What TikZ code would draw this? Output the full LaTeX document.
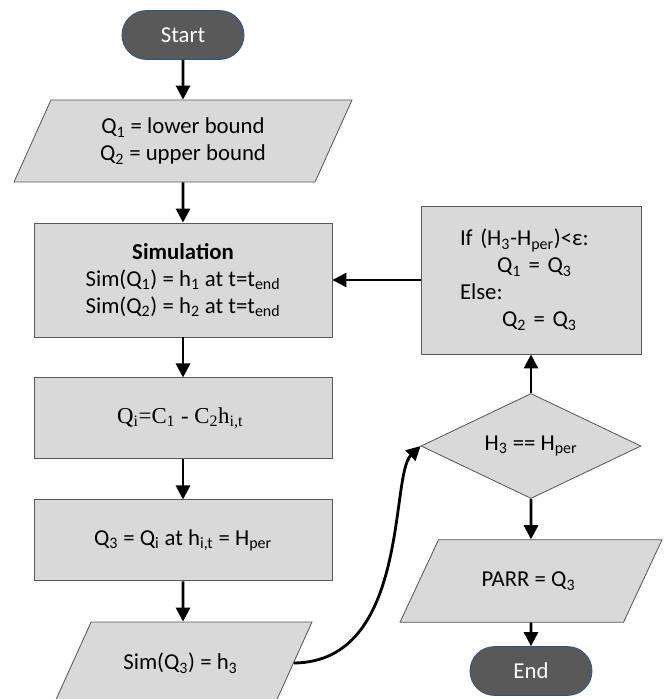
\documentclass[tikz,border=0pt]{standalone}
\usepackage{fontspec}
\setmainfont{Carlito}
\newfontfamily\timesfont{Liberation Serif}
\usepackage{xcolor}
\definecolor{chartFill}{HTML}{D9D9D9}
\definecolor{chartEdge}{HTML}{595959}
\definecolor{chartDark}{HTML}{595959}
\definecolor{chartBlue}{HTML}{2F528F}
\usetikzlibrary{shapes.geometric, shapes.misc, arrows.meta}
\newcommand{\Hper}{H\textsubscript{per}}
\newcommand{\tend}{t\textsubscript{end}}

\begin{document}
\begin{tikzpicture}[
    base/.style={
        font=\fontsize{16.2}{19.2}\selectfont,
        align=center, inner sep=0pt, line width=0.6pt
    },
    term/.style={base, rounded rectangle, fill=chartDark, draw=chartBlue,
        text=white, minimum width=3.05cm, minimum height=1.22cm},
    % slant comes from the natural height, so inner ysep fills it up
    io/.style={base, trapezium, trapezium left angle=65,
        trapezium right angle=115, trapezium stretches body,
        inner ysep=0.74cm, fill=chartFill, draw=chartEdge,
        minimum height=2.05cm},
    proc/.style={base, rectangle, fill=chartFill, draw=chartEdge,
        minimum width=7.45cm},
    decide/.style={base, diamond, aspect=2.1, fill=chartFill, draw=chartEdge,
        minimum width=5.5cm, minimum height=2.625cm},
    % connectors
    flow/.style={-{Triangle[width=10pt, length=10pt]}, line width=2pt},
]
\useasboundingbox (0, 0) rectangle (16.675, -17.475);

%% =================================================================
%% Left column: start, bounds, simulation, fit, Q3
%% =================================================================
\node[term] (start) at (4.575, -0.875) {Start};

\node[io, inner ysep=0.41cm, minimum width=8.45cm] (bounds) at (4.575, -3.525) {
  Q\textsubscript{1} = lower bound\\
  Q\textsubscript{2} = upper bound
};

\node[proc, minimum height=2.85cm] (sim) at (4.575, -7.0) {
  \textbf{Simulation}\\
  Sim(Q\textsubscript{1}) = h\textsubscript{1} at t=\tend\\
  Sim(Q\textsubscript{2}) = h\textsubscript{2} at t=\tend
};

\node[proc, minimum height=2.025cm,
      font=\timesfont\fontsize{16.2}{19.2}\selectfont] (fit) at (4.575, -10.46) {
  Q\textsubscript{i}=C\textsubscript{1} - C\textsubscript{2}h\textsubscript{i,t}
};

\node[proc, minimum height=2.025cm] (q3) at (4.575, -13.51) {
  Q\textsubscript{3} = Q\textsubscript{i} at h\textsubscript{i,t} = \Hper
};

\node[io, minimum width=6.45cm] (simq3) at (4.575, -16.575) {
  Sim(Q\textsubscript{3}) = h\textsubscript{3}
};

%% =================================================================
%% Right column: update, check, result, end
%% =================================================================
\node[proc, minimum width=5.5cm, minimum height=3.7cm,
      text width=3.55cm, align=left] (update) at (13.275, -7.0) {
  If (H\textsubscript{3}-\Hper)<ε:\\
  \hspace*{0.925cm}Q\textsubscript{1} = Q\textsubscript{3}\\
  Else:\\
  \hspace*{1.05cm}Q\textsubscript{2} = Q\textsubscript{3}
};

\node[decide] (check) at (13.275, -11.15) {H\textsubscript{3} == \Hper};

\node[io, inner ysep=0.8cm, minimum width=6.55cm] (parr) at (13.275, -14.525) {
  PARR = Q\textsubscript{3}
};

\node[term] (finish) at (13.275, -16.775) {End};

%% =================================================================
%% Connectors
%% =================================================================
\draw[flow] (start) -- (bounds);
\draw[flow] (bounds) -- (sim);
\draw[flow] (sim) -- (fit);
\draw[flow] (fit) -- (q3);
\draw[flow] (q3) -- (simq3);

% curved jump from the left column to the decision
\draw[flow] (simq3.east) .. controls (10.25, -16.55) and (9.75, -11.875)
            .. (check.west);

\draw[flow] (check) -- (update);
\draw[flow] (update) -- (sim);
\draw[flow] (check) -- (parr);
\draw[flow] (parr) -- (finish);

\end{tikzpicture}
\end{document}
